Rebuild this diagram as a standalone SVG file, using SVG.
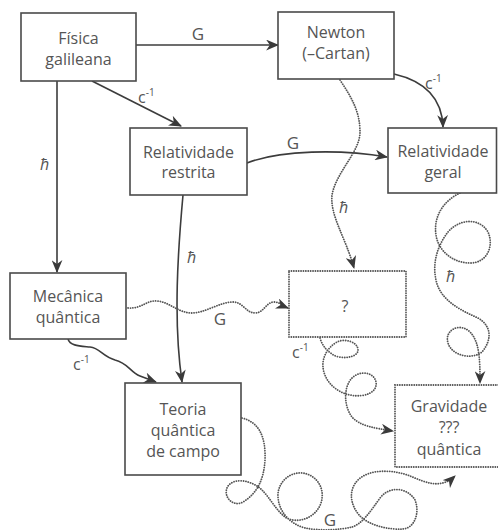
<svg xmlns="http://www.w3.org/2000/svg" width="498" height="530" viewBox="0 0 498 530">
<style>
.box{fill:#fff;stroke:#4a4a4a;stroke-width:1.6}
.dbox{fill:#fff;stroke:#555;stroke-width:1.8;stroke-dasharray:0.1 2.3;stroke-linecap:round}
.t{font-family:"Open Sans","Liberation Sans",sans-serif;font-size:16px;fill:#555;text-anchor:middle}
.lab{font-family:"Open Sans","Liberation Sans",sans-serif;font-size:17px;fill:#555}
.h{font-family:"Open Sans","Liberation Sans",sans-serif;font-size:16px;fill:#555;font-style:italic}
.c{font-family:"Open Sans","Liberation Sans",sans-serif;font-size:16px;fill:#555}
.sup{font-size:10px}
.solid{fill:none;stroke:#3c3c3c;stroke-width:1.6;marker-end:url(#arr)}
.dot{fill:none;stroke:#555;stroke-width:1.8;stroke-dasharray:0.1 2.3;stroke-linecap:round;marker-end:url(#arr)}
</style>
<defs>
<marker id="arr" viewBox="0 0 12 10" markerUnits="userSpaceOnUse" markerWidth="13" markerHeight="11" refX="11" refY="5" orient="auto">
<path d="M0,0 L12,5 L0,10 L3.5,5 Z" fill="#3a3a3a"/>
</marker>
</defs>
<g id="connectors">
<path class="solid" d="M136,45 L278,45"/>
<path class="solid" d="M92,81 L181,126"/>
<path class="solid" d="M57,81 L57,272"/>
<path class="solid" d="M183,195 C178,250 173,320 182,382"/>
<path class="solid" d="M247,163 C280,150 340,149 387,157"/>
<path class="solid" d="M394,74 C420,80 442,95 443,127"/>
<path class="solid" d="M68,339 C70,346 80,346 90,347 C100,348 102,356 115,360 C128,363 130,372 140,376 L156,382"/>
<path class="dot" d="M340,80 C352,98 360,112 360,132 C360,152 336,172 332,195 C330,216 345,236 354,268"/>
<path class="dot" d="M128,308 C142,309 146,300 157,301 C170,302 178,313 192,313 C205,313 220,302 233,302 C243,302 246,313 255,313 C264,313 266,302 274,302 C280,302 283,306 288,308"/>
<path class="dot" d="M460,193 C445,200 433,215 436,235 C438,250 452,263 470,263 C488,263 494,245 488,232 C480,218 460,218 448,232 C438,245 432,262 436,280 C440,300 460,310 478,318 C492,326 492,340 482,352 C472,360 452,356 448,343 C444,330 460,322 470,332 C480,342 480,362 480,383"/>
<path class="dot" d="M320,338 C322,345 326,350 332,354 C340,360 358,358 358,350 C358,342 345,338 337,342 C328,347 322,357 323,367 C324,380 335,392 350,395 C365,398 378,392 376,382 C374,372 360,370 352,378 C344,386 343,405 352,417 C360,426 374,428 393,431"/>
<path class="dot" d="M242,418 C258,422 266,435 265,460 C264,478 258,493 243,502 C232,508 222,495 228,486 C236,476 254,482 262,490 C270,498 276,510 285,517 C295,524 315,520 321,503 C326,487 315,474 302,473 C288,472 277,484 278,497 C279,512 290,524 305,528 C320,531 340,530 352,527 C362,524 370,512 380,498 C390,485 408,488 415,500 C420,512 415,528 403,529 C390,530 370,526 360,516 C350,505 348,490 358,480 C370,468 395,470 410,476 C425,482 440,490 455,476"/>
</g>
<g id="labels">
<text class="lab" x="198" y="40" text-anchor="middle">G</text>
<text class="c" x="138" y="103">c<tspan class="sup" dy="-7">-1</tspan></text>
<text class="h" x="40" y="170">ħ</text>
<text class="lab" x="293" y="149" text-anchor="middle">G</text>
<text class="c" x="425" y="89">c<tspan class="sup" dy="-7">-1</tspan></text>
<text class="h" x="339" y="213">ħ</text>
<text class="h" x="187" y="263">ħ</text>
<text class="lab" x="220" y="325" text-anchor="middle">G</text>
<text class="h" x="446" y="282">ħ</text>
<text class="c" x="73" y="370">c<tspan class="sup" dy="-7">-1</tspan></text>
<text class="c" x="292" y="358">c<tspan class="sup" dy="-7">-1</tspan></text>
<text class="lab" x="330" y="526" text-anchor="middle" font-size="16">G</text>
</g>
<g id="fisica-galileana">
<rect class="box" x="21" y="13" width="115" height="68"/>
<text class="t" x="78.5" y="44">Física</text>
<text class="t" x="78.5" y="65">galileana</text>
</g>
<g id="newton">
<rect class="box" x="278" y="12" width="116" height="67"/>
<text class="t" x="336" y="38">Newton</text>
<text class="t" x="336" y="59">(–Cartan)</text>
</g>
<g id="relatividade-restrita">
<rect class="box" x="130" y="128" width="117" height="67"/>
<text class="t" x="188.5" y="158">Relatividade</text>
<text class="t" x="188.5" y="178">restrita</text>
</g>
<g id="relatividade-geral">
<rect class="box" x="388" y="128" width="108.5" height="65"/>
<text class="t" x="443" y="157">Relatividade</text>
<text class="t" x="443" y="178">geral</text>
</g>
<g id="mecanica-quantica">
<rect class="box" x="10" y="273" width="116" height="66"/>
<text class="t" x="68" y="302">Mecânica</text>
<text class="t" x="68" y="323">quântica</text>
</g>
<g id="interrogacao">
<rect class="dbox" x="289" y="271" width="117" height="66"/>
<text class="t" x="345" y="312">?</text>
</g>
<g id="teoria-quantica-de-campo">
<rect class="box" x="125" y="383" width="116" height="92"/>
<text class="t" x="183" y="415">Teoria</text>
<text class="t" x="183" y="436">quântica</text>
<text class="t" x="183" y="457">de campo</text>
</g>
<g id="gravidade-quantica">
<rect class="dbox" x="395" y="385" width="104" height="82"/>
<text class="t" x="449" y="412">Gravidade</text>
<text class="t" x="449" y="433">???</text>
<text class="t" x="449" y="455">quântica</text>
</g>
</svg>
